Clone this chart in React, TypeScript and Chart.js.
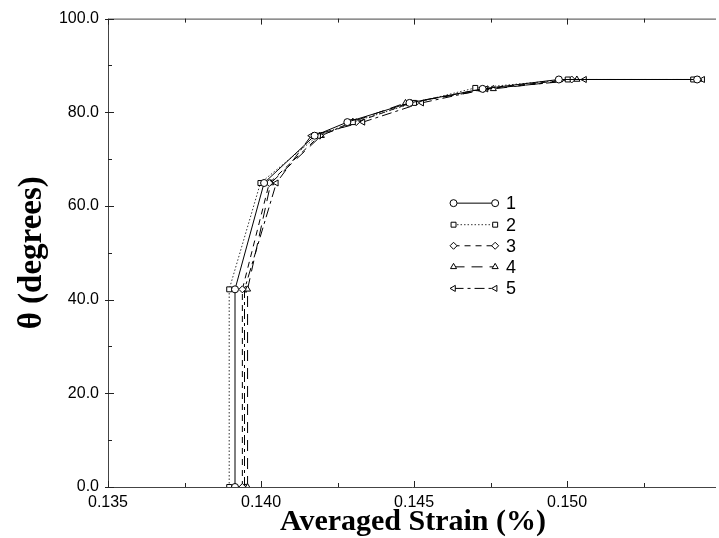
import React, { useEffect, useRef } from "react";
import { Chart, registerables } from "chart.js";
import { drawPoint } from "chart.js/helpers";
Chart.register(...registerables);

// ---- data ----
const seriesNames = ["1", "2", "3", "4", "5"];
const s1Strain = [0.13915, 0.13915, 0.1401, 0.14175, 0.14282, 0.14485, 0.14724, 0.14973, 0.15425];
const s1Theta = [0, 42.2, 64.9, 75, 77.9, 82, 85, 87, 87];
const s2Strain = [0.13896, 0.13896, 0.13998, 0.14186, 0.143, 0.145, 0.147, 0.15002, 0.15412];
const s2Theta = [0, 42.2, 64.9, 75, 77.9, 82, 85.2, 87, 87];
const s3Strain = [0.13939, 0.13939, 0.14027, 0.14192, 0.14311, 0.1449, 0.14726, 0.15015, 0.15428];
const s3Theta = [0, 42.2, 64.9, 75, 77.9, 82, 85, 87, 87];
const s4Strain = [0.13956, 0.13956, 0.14032, 0.14197, 0.143, 0.14472, 0.14759, 0.15032, 0.1543];
const s4Theta = [0, 42.2, 64.9, 75, 78, 82, 85, 87, 87];
const s5Strain = [0.13946, 0.13946, 0.1405, 0.14164, 0.14333, 0.14525, 0.14735, 0.15057, 0.15443];
const s5Theta = [0, 42.2, 64.9, 75, 77.9, 82, 85, 87, 87];
const legendTheta = [60.6, 56, 51.5, 47, 42.4];
const legendStrain = [0.14629, 0.14765, 0.148];

const xMin = 0.135;
const xMax = 0.1548;
const yMin = 0;
const yMax = 100;

const strains = [s1Strain, s2Strain, s3Strain, s4Strain, s5Strain];
const thetas = [s1Theta, s2Theta, s3Theta, s4Theta, s5Theta];
const pointStyles = ["circle", "rect", "rectRot", "triangle", "triangle"];
const rotations = [0, 0, 0, 0, -90];
const dashes = [[], [1.5, 2], [6, 5], [11, 7], [10, 4, 3, 4]];
const lineColors = ["#000", "#333", "#000", "#000", "#000"];

const SANS = "'Liberation Sans', Arial, Helvetica, sans-serif";
const SERIF = "'Liberation Serif', 'Times New Roman', serif";

const decorPlugin = {
  id: "decor",
  afterDraw(chart: any) {
    const ctx = chart.ctx as CanvasRenderingContext2D;
    const area = chart.chartArea;
    const xs = chart.scales.x;
    const ys = chart.scales.y;
    ctx.save();
    // frame
    ctx.strokeStyle = "#444";
    ctx.lineWidth = 1;
    ctx.setLineDash([]);
    ctx.beginPath();
    ctx.moveTo(area.left + 0.5, area.top + 0.5);
    ctx.lineTo(area.right + 2, area.top + 0.5);
    ctx.moveTo(area.left + 0.5, area.top + 0.5);
    ctx.lineTo(area.left + 0.5, area.bottom + 0.5);
    ctx.lineTo(area.right + 2, area.bottom + 0.5);
    ctx.stroke();
    // x ticks (inward, top and bottom)
    ctx.strokeStyle = "#222";
    xs.ticks.forEach((t: any) => {
      const k = Math.round(t.value * 10000);
      if (k % 25 !== 0) return;
      const major = k % 50 === 0;
      const px = Math.round(xs.getPixelForValue(t.value)) + 0.5;
      const len = major ? 6 : 4;
      ctx.beginPath();
      ctx.moveTo(px, area.bottom);
      ctx.lineTo(px, area.bottom - len);
      ctx.moveTo(px, area.top);
      ctx.lineTo(px, area.top + len);
      ctx.stroke();
    });
    // y ticks
    ys.ticks.forEach((t: any) => {
      const major = Math.round(t.value) % 20 === 0;
      const py = Math.round(ys.getPixelForValue(t.value)) + 0.5;
      ctx.beginPath();
      ctx.moveTo(area.left - (major ? 3 : 0), py);
      ctx.lineTo(area.left + (major ? 6 : 4), py);
      ctx.stroke();
    });
    // legend
    const lx1 = xs.getPixelForValue(legendStrain[0]);
    const lx2 = xs.getPixelForValue(legendStrain[1]);
    const ltx = xs.getPixelForValue(legendStrain[2]);
    seriesNames.forEach((name, i) => {
      const py = ys.getPixelForValue(legendTheta[i]);
      ctx.strokeStyle = lineColors[i];
      ctx.lineWidth = 1;
      ctx.setLineDash(dashes[i]);
      ctx.beginPath();
      ctx.moveTo(lx1, py);
      ctx.lineTo(lx2, py);
      ctx.stroke();
      ctx.setLineDash([]);
      ctx.fillStyle = "#fff";
      ctx.strokeStyle = "#000";
      [lx1, lx2].forEach((mx) => {
        drawPoint(ctx, { pointStyle: pointStyles[i], rotation: rotations[i], radius: 3.5, borderWidth: 1 } as any, mx, py);
      });
      ctx.fillStyle = "#000";
      ctx.font = `18px ${SANS}`;
      ctx.textAlign = "left";
      ctx.textBaseline = "middle";
      ctx.fillText(name, ltx, py + 1);
    });
    // axis titles
    ctx.fillStyle = "#000";
    ctx.font = `bold 30px ${SERIF}`;
    ctx.textAlign = "center";
    ctx.textBaseline = "alphabetic";
    ctx.fillText("Averaged Strain (%)", (area.left + area.right) / 2 + 2, 530);
    ctx.save();
    ctx.font = `bold 33px ${SERIF}`;
    ctx.translate(41, (area.top + area.bottom) / 2);
    ctx.rotate(-Math.PI / 2);
    ctx.fillText("θ (degrees)", 0, 0);
    ctx.restore();
    ctx.restore();
  },
};

export default function App() {
  const ref = useRef<HTMLCanvasElement | null>(null);
  useEffect(() => {
    document.body.style.margin = "0";
    const canvas = ref.current!;
    const datasets = strains.map((sx, i) => ({
      label: seriesNames[i],
      data: sx.map((x, j) => ({ x, y: thetas[i][j] })),
      borderColor: lineColors[i],
      borderWidth: 1,
      borderDash: dashes[i],
      pointStyle: pointStyles[i],
      pointRotation: rotations[i],
      pointRadius: 3.5,
      pointBorderWidth: 1,
      pointBorderColor: "#000",
      pointBackgroundColor: "#fff",
      fill: false,
      tension: 0,
    }));
    const chart = new Chart(canvas, {
      type: "line",
      data: { datasets },
      options: {
        animation: false,
        responsive: false,
        events: [],
        layout: { padding: { top: 15, right: 0, left: 0, bottom: 0 } },
        plugins: { legend: { display: false }, tooltip: { enabled: false } },
        scales: {
          x: {
            type: "linear",
            min: xMin,
            max: xMax,
            border: { display: false },
            grid: { display: false, drawTicks: false },
            ticks: {
              stepSize: 0.0025,
              includeBounds: false,
              autoSkip: false,
              maxRotation: 0,
              padding: 6,
              color: "#000",
              font: { family: SANS, size: 16 },
              callback: (v: any) => {
                const k = Math.round(Number(v) * 10000);
                return k % 50 === 0 ? (k / 10000).toFixed(3) : "";
              },
            },
            afterFit: (s: any) => {
              s.height = 51;
            },
          },
          y: {
            type: "linear",
            min: yMin,
            max: yMax,
            border: { display: false },
            grid: { display: false, drawTicks: false },
            ticks: {
              stepSize: 10,
              autoSkip: false,
              padding: 9,
              color: "#000",
              font: { family: SANS, size: 16 },
              callback: (v: any) => (Math.round(Number(v)) % 20 === 0 ? Number(v).toFixed(1) : ""),
            },
            afterFit: (s: any) => {
              s.width = 108;
            },
          },
        },
      },
      plugins: [decorPlugin],
    });
    return () => chart.destroy();
  }, []);
  return (
    <div style={{ position: "fixed", left: 0, top: 0, width: 719, height: 538, background: "#fff" }}>
      <canvas ref={ref} width={719} height={538} style={{ width: 719, height: 538 }} />
    </div>
  );
}
